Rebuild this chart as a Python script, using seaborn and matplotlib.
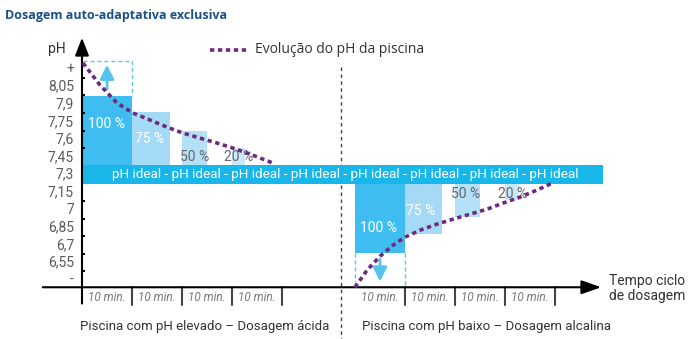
import matplotlib
matplotlib.use("Agg")
import matplotlib.pyplot as plt
import seaborn as sns
import numpy as np

# ---------------- data ----------------
tick_labels = ["+", "8,05", "7,9", "7,75", "7,6", "7,45", "7,3", "7,15", "7", "6,85", "6,7", "6,55", "-"]
tick_values = [8.2, 8.05, 7.9, 7.75, 7.6, 7.45, 7.3, 7.15, 7.0, 6.85, 6.7, 6.55, 6.4]

pct_labels = ["100 %", "75 %", "50 %", "20 %"]

# high-pH (acid dosing) section, x in minutes
acid_start = [0, 10, 20, 30]
acid_width = [10, 7.6, 5, 2.6]
acid_top = [7.97, 7.83, 7.67, 7.53]

# low-pH (alkaline dosing) section
alk_start = [54.6, 64.6, 74.6, 84.6]
alk_width = [10, 7.4, 5, 2.8]
alk_bottom = [6.63, 6.79, 6.94, 7.08]

ideal_low, ideal_high = 7.22, 7.38

acid_curve_t = [0.2, 3.6, 7.0, 10.2, 13.6, 17.0, 20.2, 23.6, 27.0, 30.2, 33.6, 38.2]
acid_curve_ph = [8.251, 8.063, 7.910, 7.825, 7.765, 7.705, 7.654, 7.611, 7.569, 7.526, 7.475, 7.398]

alk_curve_t = [54.6, 57.0, 59.6, 62.2, 64.6, 67.6, 71.0, 74.2, 77.6, 81.0, 84.2, 87.6, 91.0, 94.0]
alk_curve_ph = [6.340, 6.485, 6.604, 6.698, 6.767, 6.826, 6.878, 6.920, 6.963, 7.005, 7.057, 7.108, 7.168, 7.227]

segment_label = "10 min."
acid_segments = [0, 10, 20, 30]
alk_segments = [54.6, 64.6, 74.6, 84.6]

# ---------------- style ----------------
sns.set_theme(style="white")
plt.rcParams['font.family'] = ['Roboto', 'DejaVu Sans']

W, H = 691, 339
fig = plt.figure(figsize=(W / 100, H / 100), dpi=100)
ax = fig.add_axes([0, 0, 1, 1])
ax.set_xlim(-16.4, 121.8)
ax.set_ylim(5.899, 8.788)
ax.axis("off")

def px_x(px):
    return (px - 82) / 5.0

def px_y(py):
    return 8.2 - (py - 69) / 17.58 * 0.15

bar_colors = ["#3fbdf0", "#a4daf5", "#b4e1f7", "#c6e8f8"]
pct_colors = ["white", "white", "#666666", "#666666"]
band_color = "#19b6e9"
curve_color = "#6e2a7e"
gray = "#5a5a5a"

# bars
heights = [t - ideal_high for t in acid_top]
ax.bar(acid_start, heights, width=acid_width, bottom=ideal_high, align="edge",
       color=bar_colors, linewidth=0, zorder=2)
heights2 = [ideal_low - b for b in alk_bottom]
ax.bar(alk_start, heights2, width=alk_width, bottom=alk_bottom, align="edge",
       color=bar_colors, linewidth=0, zorder=2)

# ideal band
ax.bar([0], [ideal_high - ideal_low], width=[px_x(603)], bottom=ideal_low, align="edge",
       color=band_color, linewidth=0, zorder=3)
ax.text(px_x(345), 7.30, " - ".join(["pH ideal"] * 8), color="white", fontsize=9.7,
        ha="center", va="center", zorder=4)

# percentage labels
acid_lab_pos = [(107, 124), (150, 139), (195, 157), (239, 157)]
alk_lab_pos = [(378, 228), (421, 211), (466, 194), (513, 194)]
for lab, c, (x, y) in zip(pct_labels, pct_colors, acid_lab_pos):
    ax.text(px_x(x), px_y(y), lab, color=c, fontsize=10, ha="center", va="center", zorder=5)
for lab, c, (x, y) in zip(pct_labels, pct_colors, alk_lab_pos):
    ax.text(px_x(x), px_y(y), lab, color=c, fontsize=10, ha="center", va="center", zorder=5)

# curves
dot = (0, (1.2, 1.0))
sns.lineplot(x=acid_curve_t, y=acid_curve_ph, ax=ax, color=curve_color, linewidth=2.6,
             linestyle=dot, zorder=6, legend=False)
sns.lineplot(x=alk_curve_t, y=alk_curve_ph, ax=ax, color=curve_color, linewidth=2.6,
             linestyle=dot, zorder=6, legend=False)

# legend
ax.plot([px_x(210), px_x(246)], [px_y(50), px_y(50)], color=curve_color, linewidth=2.6, linestyle=dot)
ax.text(px_x(255), px_y(50), "Evolução do pH da piscina", color="#333333", fontsize=10,
        ha="left", va="center", family=["Open Sans", "DejaVu Sans"])

# dashed boxes + arrows
lb = "#5cc8f0"
ax.plot([px_x(83), px_x(132), px_x(132)], [px_y(61), px_y(61), px_y(96)], color=lb,
        linestyle=(0, (3, 2)), linewidth=1, zorder=3)
ax.annotate("", xy=(px_x(107), px_y(62)), xytext=(px_x(107), px_y(92)),
            arrowprops=dict(arrowstyle="-|>,head_length=0.7,head_width=0.35", color="#55c3ee", lw=2.0))
for xp in (355, 405):
    ax.plot([px_x(xp), px_x(xp)], [px_y(253), px_y(287)], color=lb,
            linestyle=(0, (3, 2)), linewidth=1, zorder=3)
ax.annotate("", xy=(px_x(380), px_y(284)), xytext=(px_x(380), px_y(256)),
            arrowprops=dict(arrowstyle="-|>,head_length=0.7,head_width=0.35", color="#55c3ee", lw=2.0))

# axes
ax.annotate("", xy=(px_x(82), px_y(35)), xytext=(px_x(82), px_y(306)),
            arrowprops=dict(arrowstyle="-|>,head_length=0.9,head_width=0.35", color="black", lw=1.5))
ax.annotate("", xy=(px_x(604), px_y(287)), xytext=(px_x(40), px_y(287)),
            arrowprops=dict(arrowstyle="-|>,head_length=1.0,head_width=0.35", color="black", lw=1.5))

# y ticks
for lab, v in zip(tick_labels, tick_values):
    ax.text(px_x(74), v, lab, color=gray, fontsize=10, ha="right", va="center")
minor = [v - 0.075 for v in tick_values[:-1]]
ax.hlines(minor, px_x(82), px_x(85), color="black", linewidth=1.5, zorder=2)
ax.text(px_x(57), px_y(49), "pH", color="#333333", fontsize=10, ha="center", va="center")

# segment dividers and labels
for s in acid_segments + alk_segments:
    ax.text(s + 5, px_y(297), segment_label, color="#777777", fontsize=8.5, style="italic",
            ha="center", va="center")
for s in acid_segments[1:] + [40] + alk_segments[1:] + [alk_segments[-1] + 10]:
    ax.plot([s, s], [px_y(287), px_y(305)], color="#444444", linewidth=1.5)

# separator
ax.plot([px_x(341), px_x(341)], [px_y(67), px_y(339)], color="#444444",
        linestyle=(0, (2.5, 2.5)), linewidth=1)

# captions
ax.text(px_x(205), px_y(326), "Piscina com pH elevado – Dosagem ácida", color="#333333",
        fontsize=9.5, ha="center", va="center")
ax.text(px_x(486), px_y(326), "Piscina com pH baixo – Dosagem alcalina", color="#333333",
        fontsize=9.5, ha="center", va="center")
ax.text(px_x(647), px_y(288), "Tempo ciclo\nde dosagem", color="#333333", fontsize=10,
        ha="center", va="center", linespacing=1.1)

# title
fig.text(5 / W, 1 - 15 / H, "Dosagem auto-adaptativa exclusiva", color="#1b5089", fontsize=9,
         fontweight="bold", ha="left", va="center", family=["Open Sans", "DejaVu Sans"])

fig.savefig("out.png", dpi=100)
